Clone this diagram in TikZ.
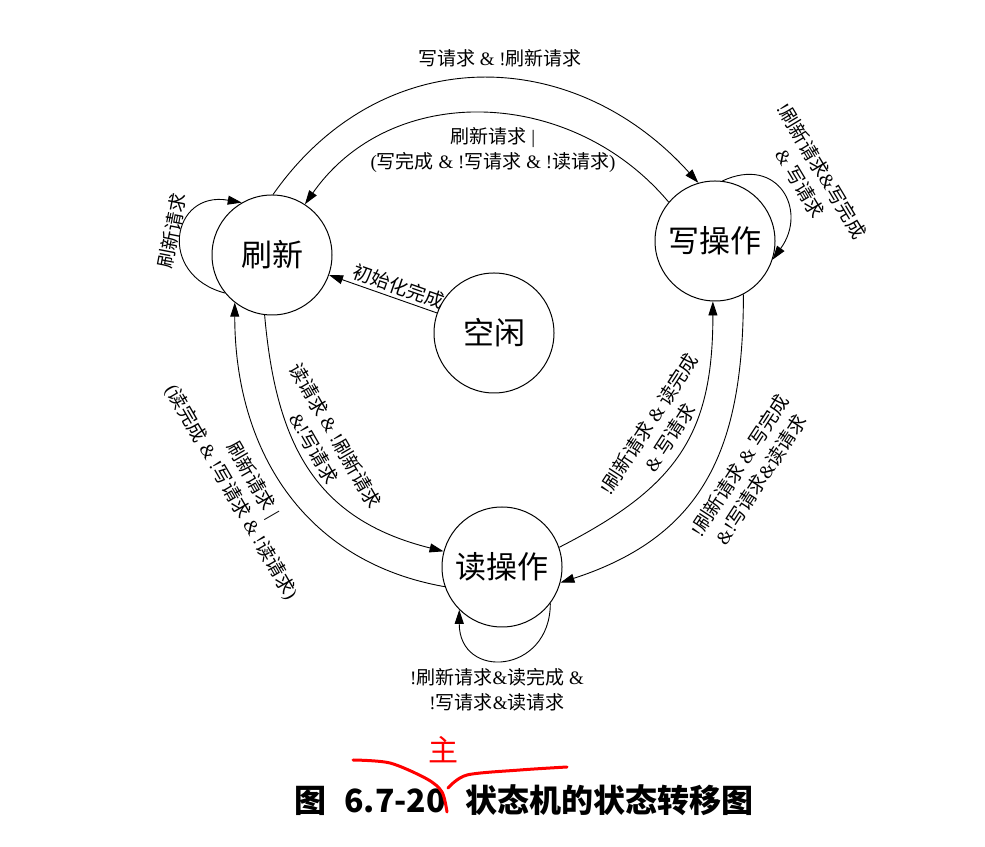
\documentclass[tikz,border=0pt]{standalone}
\usepackage{fontspec}
\setmainfont{Liberation Serif}
\newfontfamily\zhfont{Noto Sans CJK SC}
\usetikzlibrary{arrows.meta}
% CJK characters switch to the CJK font by themselves
\XeTeXinterchartokenstate=1
\newXeTeXintercharclass\zhclass
\newcount\zhcode
\zhcode="4E00
\loop
  \XeTeXcharclass\zhcode=\zhclass
  \ifnum\zhcode<"9FFF \advance\zhcode by 1
\repeat
\XeTeXinterchartoks 0 \zhclass = {\zhfont}
\XeTeXinterchartoks 4095 \zhclass = {\zhfont}
\XeTeXinterchartoks \zhclass 0 = {\rmfamily}
\XeTeXinterchartoks \zhclass 4095 = {\rmfamily}

\begin{document}
\begin{tikzpicture}[x=1pt, y=1pt,
    state/.style={circle, draw, line width=1pt, minimum size=120pt, inner sep=0pt,
                  font=\fontsize{31}{36}\selectfont},
    trans/.style={line width=0.9pt, -{Triangle[length=14pt, width=9pt]}},
    cond/.style={font=\fontsize{19}{25}\selectfont, align=center, inner sep=1pt}]
\useasboundingbox (0,0) rectangle (985,846);
% States
\node[state] (shuaxin)  at (272,591) {刷新};
\node[state] (xie)      at (715,605) {写操作};
\node[state] (kongxian) at (494,513) {空闲};
\node[state] (du)       at (502,279) {读操作};
% Refresh <-> write
\draw[trans] (shuaxin.89) to[out=55, in=132, looseness=1.13] (xie.106);
\draw[trans] (xie.140) to[out=130, in=55, looseness=1.06] (shuaxin.57);
\node[cond] (c_sx) at (500,788) {写请求 \& !刷新请求};
\node[cond] (c_xs) at (493,696) {刷新请求 |\\(写完成 \& !写请求 \& !读请求)};
% Refresh self loop
\draw[trans] (shuaxin.219) to[out=165, in=170, looseness=1.98] (shuaxin.120);
\node[cond, rotate=79] (c_ss) at (172,615) {刷新请求};
% Idle -> refresh
\draw[trans] (kongxian) -- node[cond, sloped, above=2pt, pos=0.39] (c_ks) {初始化完成} (shuaxin);
% Refresh <-> read
\draw[trans] (shuaxin.263) to[out=275, in=166, looseness=1.13] (du.165);
\draw[trans] (du.199) to[out=170, in=270, looseness=1.05] (shuaxin.232);
\node[cond, rotate=-60] (c_sd) at (325,404) {读请求 \& !刷新请求\\\&!写请求};
\node[cond, rotate=-60] (c_ds) at (242,360) {刷新请求 |\\(读完成 \& !写请求 \& !读请求)};
% Read <-> write
\draw[trans] (du.19) to[out=27, in=270, looseness=1.17] (xie.268);
\draw[trans] (xie.298) to[out=270, in=18, looseness=1.14] (du.345);
\node[cond, rotate=57] (c_dx) at (659,415) {!刷新请求 \& 读完成\\\& 写请求};
\node[cond, rotate=57] (c_xd) at (750,373.5) {!刷新请求 \& 写完成\\\&!写请求\&读请求};
% Write self loop
\draw[trans] (xie.83) to[out=25, in=54, looseness=1.67] (xie.342);
\node[cond, rotate=-59] (c_xx) at (811,669) {!刷新请求\&写完成\\\& 写请求};
% Read self loop
\draw[trans] (du.323) to[out=270, in=270, looseness=1.99] (du.225);
\node[cond] (c_dd) at (497,156.5) {!刷新请求\&读完成 \&\\!写请求\&读请求};
% Caption
\node (caption) at (524,46) {\XeTeXinterchartokenstate=0
  \zhfont\bfseries\fontsize{32}{38}\selectfont 图\hspace{0.55em}6.7-20\hspace{0.6em}状态机的状态转移图};
% Red pen mark
\node[red, font=\fontsize{30}{34}\selectfont] (mark) at (443,96) {主};
\draw[red, line width=3pt, line cap=round, line join=round]
    plot[smooth] coordinates {(353,86) (390,83) (427,67) (442,54) (447,34)};
\draw[red, line width=3pt, line cap=round, line join=round]
    plot[smooth] coordinates {(448,58) (467,71) (520,76) (567,79)};
\end{tikzpicture}
\end{document}
